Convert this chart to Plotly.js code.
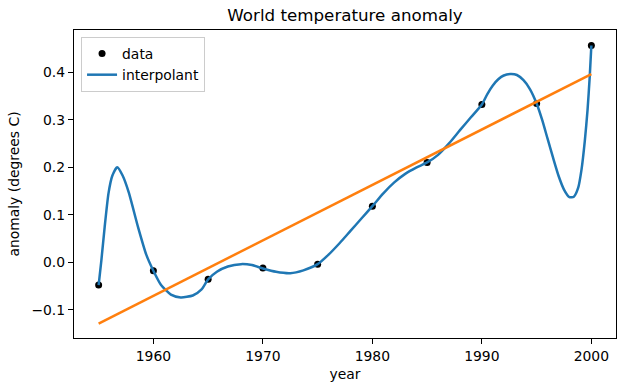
<!DOCTYPE html>
<html>
<head>
<meta charset="utf-8">
<script src="https://cdn.plot.ly/plotly-3.0.1.min.js"></script>
<style>html,body{margin:0;padding:0;background:#fff;}#chart{width:625px;height:391px;}</style>
</head>
<body>
<div id="chart"></div>
<script>
// Data points
const years = [1955, 1960, 1965, 1970, 1975, 1980, 1985, 1990, 1995, 2000];
const anomaly = [-0.048, -0.018, -0.036, -0.012, -0.004, 0.118, 0.210, 0.332, 0.334, 0.456];

// Interpolant curve
const curveYears = [1955.0, 1955.25, 1955.55, 1955.9, 1956.25, 1956.7, 1957.2, 1957.75, 1958.6, 1959.35,
  1960.0, 1960.7, 1961.6, 1962.5, 1963.6, 1964.4, 1965.0, 1965.8, 1966.8, 1968.0, 1969.0,
  1970.0, 1971.2, 1972.5, 1973.7, 1975.0, 1976.0, 1977.0, 1978.0, 1979.0, 1980.0,
  1981.0, 1982.0, 1983.0, 1984.0, 1985.0, 1986.0, 1987.0, 1988.0, 1989.0, 1990.0,
  1990.5, 1991.0, 1991.5, 1992.0, 1992.6, 1993.2, 1993.8, 1994.4, 1995.0, 1995.5,
  1996.0, 1996.5, 1997.0, 1997.5, 1998.0, 1998.4, 1998.8, 1999.1, 1999.4, 1999.65, 1999.85, 2000.0];
const curveValues = [-0.048, 0.004, 0.074, 0.145, 0.182, 0.200, 0.182, 0.147, 0.074, 0.016,
  -0.018, -0.048, -0.068, -0.074, -0.070, -0.057, -0.036, -0.020, -0.009, -0.004, -0.006,
  -0.013, -0.020, -0.023, -0.017, -0.004, 0.016, 0.040, 0.066, 0.092, 0.118,
  0.145, 0.168, 0.186, 0.199, 0.210, 0.226, 0.250, 0.278, 0.305, 0.332,
  0.354, 0.372, 0.385, 0.393, 0.396, 0.394, 0.383, 0.364, 0.334, 0.300,
  0.260, 0.220, 0.182, 0.153, 0.137, 0.138, 0.157, 0.195, 0.255, 0.320, 0.390, 0.456];

// Linear fit endpoints
const fitYears = [1955, 2000];
const fitValues = [-0.129, 0.396];

const xTicks = [1960, 1970, 1980, 1990, 2000];
const yTicks = [-0.1, 0.0, 0.1, 0.2, 0.3, 0.4];
const yTickText = ['\u22120.1', '0.0', '0.1', '0.2', '0.3', '0.4'];

const font = 'DejaVu Sans, sans-serif';

const traces = [
  {x: years, y: anomaly, type: 'scatter', mode: 'markers', name: 'data',
   marker: {color: '#000000', size: 7}},
  {x: curveYears, y: curveValues, type: 'scatter', mode: 'lines', name: 'interpolant',
   line: {color: '#1f77b4', width: 2.5, shape: 'spline', smoothing: 0.6}},
  {x: fitYears, y: fitValues, type: 'scatter', mode: 'lines', name: 'fit', showlegend: false,
   line: {color: '#ff7f0e', width: 2.5}}
];

const layout = {
  width: 625, height: 391,
  margin: {l: 74, r: 9, t: 30, b: 53, pad: 0},
  paper_bgcolor: '#ffffff', plot_bgcolor: '#ffffff',
  font: {family: font, size: 13.9, color: '#000000'},
  title: {text: 'World temperature anomaly', font: {family: font, size: 16.7, color: '#000'},
          x: 0.5, xref: 'paper', xanchor: 'center', y: 1 - 15.5/391, yref: 'container', yanchor: 'middle'},
  xaxis: {range: [1952.75, 2002.25], tickvals: xTicks, ticktext: xTicks.map(String),
          showgrid: false, zeroline: false, showline: true, mirror: true, linecolor: '#000', linewidth: 1.1,
          ticks: 'outside', ticklen: 5, tickwidth: 1.1, tickcolor: '#000',
          tickfont: {family: font, size: 13.9},
          title: {text: 'year', font: {family: font, size: 13.9}, standoff: 6}},
  yaxis: {range: [-0.1594, 0.4887], tickvals: yTicks, ticktext: yTickText,
          showgrid: false, zeroline: false, showline: true, mirror: true, linecolor: '#000', linewidth: 1.1,
          ticks: 'outside', ticklen: 5, tickwidth: 1.1, tickcolor: '#000',
          tickfont: {family: font, size: 13.9},
          title: {text: 'anomaly (degrees C)', font: {family: font, size: 13.9}, standoff: 8}},
  legend: {x: 0.013, y: 0.977, xanchor: 'left', yanchor: 'top', bgcolor: 'rgba(255,255,255,0.8)',
           bordercolor: '#cccccc', borderwidth: 1, font: {family: font, size: 13.9},
           itemwidth: 30, tracegroupgap: 0}
};

Plotly.newPlot('chart', traces, layout, {displayModeBar: false, staticPlot: true});
</script>
</body>
</html>
